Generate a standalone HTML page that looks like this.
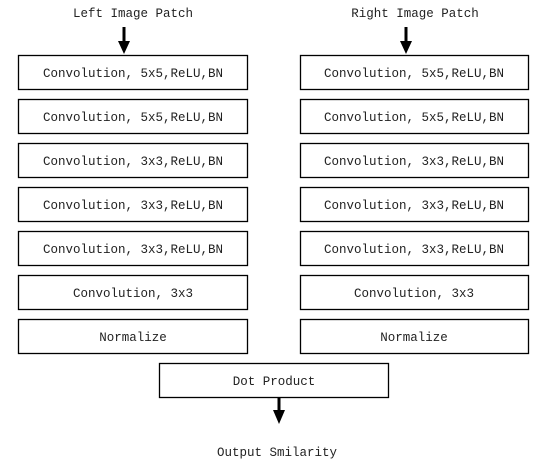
<!DOCTYPE html>
<html><head><style>body{margin:0;background:#fff}svg{display:block}text{font-family:"Liberation Mono","Noto Serif CJK SC",monospace;font-size:12.5px;fill:#222}</style></head>
<body>
<svg width="541" height="475" xmlns="http://www.w3.org/2000/svg">
<defs><marker id="a" markerWidth="12" markerHeight="14" refX="6" refY="13" orient="auto" markerUnits="userSpaceOnUse"></marker></defs>
<g fill="#fff" stroke="#000" stroke-width="1.3">
<rect x="18.5" y="55.5" width="229" height="34"/><rect x="18.5" y="99.5" width="229" height="34"/><rect x="18.5" y="143.5" width="229" height="34"/><rect x="18.5" y="187.5" width="229" height="34"/><rect x="18.5" y="231.5" width="229" height="34"/><rect x="18.5" y="275.5" width="229" height="34"/><rect x="18.5" y="319.5" width="229" height="34"/>
<rect x="300.5" y="55.5" width="228" height="34"/><rect x="300.5" y="99.5" width="228" height="34"/><rect x="300.5" y="143.5" width="228" height="34"/><rect x="300.5" y="187.5" width="228" height="34"/><rect x="300.5" y="231.5" width="228" height="34"/><rect x="300.5" y="275.5" width="228" height="34"/><rect x="300.5" y="319.5" width="228" height="34"/>
<rect x="159.5" y="363.5" width="229" height="34"/>
</g>
<g stroke="#000" stroke-width="3"><line x1="124" y1="27" x2="124" y2="44"/><line x1="406" y1="27" x2="406" y2="44"/><line x1="279" y1="398" x2="279" y2="412"/></g>
<g fill="#000"><polygon points="118,41 130,41 124,54"/><polygon points="400,41 412,41 406,54"/><polygon points="273,410 285,410 279,424"/></g>
<g text-anchor="middle">
<text x="133" y="17">Left Image Patch</text><text x="415" y="17">Right Image Patch</text>
<text x="133" y="77">Convolution,  5x5,ReLU,BN</text><text x="133" y="121">Convolution,  5x5,ReLU,BN</text><text x="133" y="165">Convolution,  3x3,ReLU,BN</text><text x="133" y="209">Convolution,  3x3,ReLU,BN</text><text x="133" y="253">Convolution,  3x3,ReLU,BN</text><text x="133" y="297">Convolution,  3x3</text><text x="133" y="341">Normalize</text>
<text x="414" y="77">Convolution,  5x5,ReLU,BN</text><text x="414" y="121">Convolution,  5x5,ReLU,BN</text><text x="414" y="165">Convolution,  3x3,ReLU,BN</text><text x="414" y="209">Convolution,  3x3,ReLU,BN</text><text x="414" y="253">Convolution,  3x3,ReLU,BN</text><text x="414" y="297">Convolution,  3x3</text><text x="414" y="341">Normalize</text>
<text x="274" y="385">Dot Product</text><text x="277" y="456">Output Smilarity</text>
</g>
</svg>
</body></html>
